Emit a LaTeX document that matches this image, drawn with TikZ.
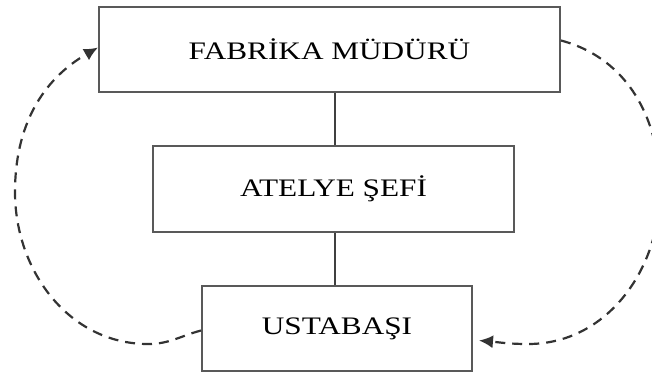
\documentclass[tikz,border=0pt]{standalone}
\usepackage{fontspec}
\newfontfamily\boxfont[FakeStretch=1.24]{Liberation Serif}
\usetikzlibrary{arrows.meta,calc}
\begin{document}
\begin{tikzpicture}[x=0.5pt,y=-0.5pt,
  orgbox/.style={draw=black!65, line width=1pt, fill=white, inner sep=0pt,
    font=\boxfont\fontsize{12.6}{14}\selectfont, text=black},
  link/.style={draw=black!75, line width=0.9pt},
  loop/.style={draw=black!80, line width=1.1pt, dash pattern=on 5pt off 3.5pt,
    -{Latex[length=7pt,width=6.5pt]}}]
\useasboundingbox (0,0) rectangle (652,376);
\clip (0,0) rectangle (652,376);
\node[orgbox, minimum width=230.5pt, minimum height=42.5pt] (top) at (329.5,49.5) {FABRİKA MÜDÜRÜ};
\node[orgbox, minimum width=180.5pt, minimum height=43pt] (mid) at (333.5,189) {ATELYE ŞEFİ};
\node[orgbox, minimum width=135pt, minimum height=42.5pt] (bot) at (337,328.5) {USTABAŞI};
\draw[link] (top.south -| 335,0) -- (mid.north -| 335,0);
\draw[link] (mid.south -| 335,0) -- (bot.north -| 335,0);
\coordinate (lb) at (148,344);
\coordinate (ll) at (15,192);
\coordinate (rr) at (660,190);
\coordinate (rb) at (528,344);
\coordinate (rs) at ($(top.east)+(0,-9)$);
\coordinate (re) at ($(bot.east)+(6,12)$);
\coordinate (ls) at ($(bot.west)+(0,2)$);
\coordinate (le) at ($(top.west)+(0,-2)$);
\draw[loop] (ls) to[out=195,in=0] (lb) to[out=180,in=270] (ll) to[out=90,in=210] (le);
\draw[loop] (rs) to[out=-15,in=90] (rr) to[out=270,in=0] (rb) to[out=180,in=-5] (re);
\end{tikzpicture}
\end{document}
